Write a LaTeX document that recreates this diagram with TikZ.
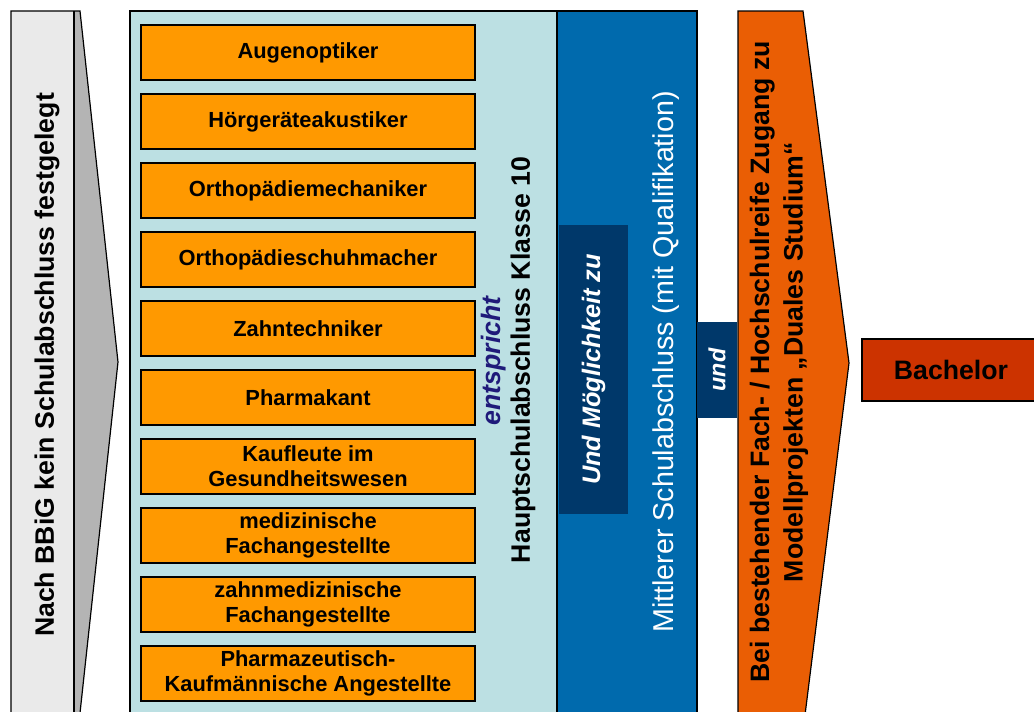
\documentclass[tikz,border=0pt]{standalone}
\usepackage{fontspec}
\setmainfont{Liberation Sans}
\usepackage{tikz}
\usetikzlibrary{positioning}
\usepackage{xcolor}
\definecolor{pfeilgrauhell}{RGB}{234, 234, 234}
\definecolor{pfeilgraudunkel}{RGB}{180, 180, 180}
\definecolor{hauptcyan}{RGB}{188, 224, 227}
\definecolor{berufsorange}{RGB}{255, 153, 0}
\definecolor{mittelblau}{RGB}{0, 106, 173}
\definecolor{tiefblau}{RGB}{0, 56, 106}
\definecolor{studiumorange}{RGB}{234, 94, 4}
\definecolor{bachelorrot}{RGB}{204, 51, 0}
\definecolor{entsprichtblau}{RGB}{31, 26, 122}

\begin{document}
\begin{tikzpicture}[x=0.75pt, y=-0.75pt, line width=0.9pt,
    jobbox/.style={draw, rectangle, fill=berufsorange, minimum width=250.5pt, minimum height=41.25pt,
        inner sep=0pt, outer sep=0pt, align=center, font=\fontsize{16.4}{19}\selectfont\bfseries},
    hochtext/.style={rotate=90, inner sep=0pt, align=center}]
    \useasboundingbox (0,0) rectangle (1034,711);
    \clip (0,0) rectangle (1034,711);
    % grauer Pfeil links
    \fill[pfeilgrauhell] (11,11) rectangle (74,720);
    \fill[pfeilgraudunkel] (74,11) -- (80,11) -- (118,362) -- (80,713) -- (74,713) -- cycle;
    \draw (74,11) -- (74,720);
    \draw (11,720) -- (11,11) -- (80,11) -- (118,362) -- (80,713) -- (74,720);
    \node[hochtext, font=\fontsize{20}{24}\selectfont\bfseries] (nachbbig) at (47,365) {Nach BBiG kein Schulabschluss festgelegt};
    % Hauptschulabschluss
    \draw[fill=hauptcyan] (130,11) rectangle (557,720);
    \node[jobbox] (augen) at (308,52.5) {Augenoptiker};
    \node[jobbox, below=10.5pt of augen] (hoer) {Hörgeräteakustiker};
    \node[jobbox, below=10.5pt of hoer] (orthomech) {Orthopädiemechaniker};
    \node[jobbox, below=10.5pt of orthomech] (orthoschuh) {Orthopädieschuhmacher};
    \node[jobbox, below=10.5pt of orthoschuh] (zahn) {Zahntechniker};
    \node[jobbox, below=10.5pt of zahn] (pharmakant) {Pharmakant};
    \node[jobbox, below=10.5pt of pharmakant] (kaufleute) {Kaufleute im\\Gesundheitswesen};
    \node[jobbox, below=10.5pt of kaufleute] (medfach) {medizinische\\Fachangestellte};
    \node[jobbox, below=10.5pt of medfach] (zahnfach) {zahnmedizinische\\Fachangestellte};
    \node[jobbox, below=10.5pt of zahnfach] (pka) {Pharmazeutisch-\\Kaufmännische Angestellte};
    \node[hochtext, text=entsprichtblau, font=\fontsize{20}{24}\selectfont\bfseries\itshape] (entspricht) at (494,361) {entspricht};
    \node[hochtext, font=\fontsize{20}{24}\selectfont\bfseries] (hauptschul) at (523,360) {Hauptschulabschluss Klasse 10};
    % Mittlerer Schulabschluss
    \draw[fill=mittelblau] (557,11) rectangle (697,720);
    \node[rotate=90, fill=tiefblau, text=white, minimum width=216.75pt, minimum height=51.75pt,
        font=\fontsize{19}{23}\selectfont\bfseries\itshape] (moeglich) at (593.5,369.5) {Und Möglichkeit zu};
    \node[hochtext, text=white, font=\fontsize{21.5}{25}\selectfont] (mittlerer) at (666,362) {Mittlerer Schulabschluss (mit Qualifikation)};
    \node[rotate=90, fill=tiefblau, text=white, minimum width=72pt, minimum height=30pt,
        font=\fontsize{17.5}{21}\selectfont\bfseries\itshape] (und) at (717,370) {und};
    % Zugang Duales Studium
    \draw[fill=studiumorange] (738,720) -- (738,11) -- (803,11) -- (849,363) -- (805,715) -- (804,720);
    \node[hochtext, font=\fontsize{20}{25}\selectfont\bfseries] (zugang) at (779,362)
        {Bei bestehender Fach- / Hochschulreife Zugang zu\\Modellprojekten „Duales Studium“};
    \node[draw, rectangle, fill=bachelorrot, minimum width=133.5pt, minimum height=46.5pt,
        font=\fontsize{20}{24}\selectfont\bfseries] (bachelor) at (951,370) {Bachelor};
\end{tikzpicture}
\end{document}
